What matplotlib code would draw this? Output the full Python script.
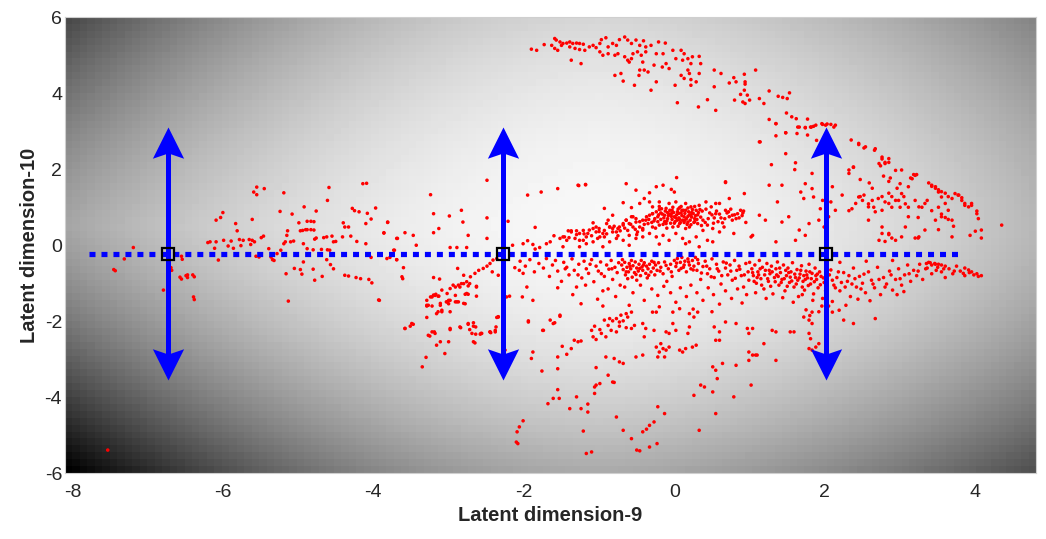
import numpy as np
import matplotlib
matplotlib.use('Agg')
import matplotlib.pyplot as plt
from matplotlib.path import Path

plt.rcParams['font.family'] = ['Liberation Sans', 'DejaVu Sans']
plt.rcParams['axes.unicode_minus'] = False

# latent codes, grouped by region
far_left = [
    (-7.45, -0.64), (-7.43, -0.67), (-7.31, -0.36), (-7.19, -0.06), (-7.53, -5.39), (-6.69, -0.59),
    (-6.55, -0.29), (-6.57, -0.84), (-6.49, -0.80), (-6.47, -0.78), (-6.40, -0.78), (-6.39, -1.36),
    (-6.79, -1.18), (-5.55, 1.53), (-5.59, 1.40), (-5.55, 1.33), (-5.45, 1.49), (-5.19, 1.38),
    (-6.00, 0.86), (-6.03, 0.73), (-6.09, 0.66), (-5.83, 0.57), (-5.81, 0.38), (-5.61, 0.68),
    (-5.24, 0.89), (-5.08, 0.82), (-4.92, 1.01), (-4.76, 0.90), (-4.61, 1.18), (-4.59, 1.52),
    (-4.14, 1.62), (-4.09, 1.63), (-4.28, 0.97), (-4.25, 0.91), (-4.19, 0.88), (-4.08, 0.84),
    (-3.97, 0.98), (-3.81, 0.61), (-4.03, 0.69), (-4.10, 0.57), (-4.40, 0.59), (-4.38, 0.48),
    (-4.33, 0.48), (-4.41, 0.22), (-4.30, 0.24), (-4.22, 0.10), (-3.86, 0.32), (-3.68, 0.18),
    (-4.10, 0.04), (-3.69, -0.38), (-3.78, -0.32), (-3.72, -0.13), (-4.03, -0.32),
    (-6.20, 0.07), (-6.17, 0.09), (-6.09, 0.09), (-5.99, 0.13), (-5.93, -0.02), (-5.89, 0.11),
    (-5.86, -0.08), (-5.78, 0.15), (-5.76, -0.01), (-5.73, 0.13), (-5.65, 0.15), (-5.61, 0.13),
    (-5.58, 0.09), (-5.63, 0.02), (-5.49, 0.20), (-5.46, 0.24), (-5.56, -0.29), (-5.52, -0.31),
    (-5.39, -0.09), (-5.36, -0.31), (-5.34, -0.38), (-5.32, -0.40), (-5.28, -0.22), (-5.23, -0.13),
    (-5.19, 0.04), (-5.17, 0.09), (-5.14, 0.38), (-5.15, 0.26), (-5.10, 0.09), (-5.06, 0.11),
    (-4.99, 0.59), (-4.97, 0.38), (-4.94, 0.39), (-4.90, 0.41), (-4.88, 0.63), (-4.83, 0.63),
    (-4.79, 0.62), (-4.88, 0.41), (-4.83, 0.41), (-4.79, 0.40), (-4.93, 0.04), (-4.88, -0.09),
    (-4.80, -0.12), (-4.78, 0.16), (-4.76, 0.19), (-4.66, 0.20), (-4.62, 0.22), (-4.55, 0.24),
    (-4.53, 0.09), (-4.50, 0.10), (-4.61, -0.12), (-4.58, -0.13), (-4.69, -0.11), (-4.55, -0.26),
    (-4.93, -0.44), (-4.97, -0.64), (-5.05, -0.61), (-5.16, -0.75), (-4.95, -0.76), (-4.80, -0.63),
    (-4.78, -0.92), (-4.68, -0.82), (-4.62, -0.38), (-4.57, -0.51), (-4.53, -0.62), (-4.38, -0.79),
    (-4.33, -0.81), (-4.23, -0.85), (-4.17, -0.88), (-4.06, -0.90), (-4.02, -0.99), (-3.93, -1.44),
    (-5.13, -1.47), (-6.38, -1.43), (-6.54, -0.37), (-6.68, -0.66), (-6.55, -0.89), (-6.47, -0.85),
    (-6.38, -0.83), (-6.06, -0.39), (-6.11, -0.08),
]

left_mid = [
    (-2.49, 1.71), (-3.24, 1.33), (-2.83, 0.92), (-3.20, 0.83), (-2.99, 0.77), (-2.81, 0.61),
    (-2.49, 0.72), (-3.81, 0.60), (-3.86, 0.33), (-3.58, 0.33), (-3.47, 0.26), (-3.20, 0.33),
    (-3.13, 0.44), (-2.74, 0.26), (-2.49, 0.18), (-3.69, 0.18), (-3.43, 0.00), (-2.98, -0.06),
    (-2.89, -0.06), (-2.76, -0.06), (-3.73, -0.13), (-3.82, -0.35), (-3.69, -0.38), (-3.60, -0.59),
    (-3.62, -0.83), (-3.61, -0.88), (-3.20, -0.85), (-3.12, -0.89), (-2.88, -0.61), (-2.21, 0.63),
    (-1.85, 0.47), (-1.95, 1.32), (-1.77, 1.40), (-1.55, 1.49), (-1.27, 1.57), (-1.18, 1.59),
    (-0.64, 1.62),
]

left_arm = [
    (-3.29, -1.45), (-3.24, -1.36), (-3.20, -1.31), (-3.17, -1.29), (-3.13, -1.34), (-3.29, -1.58),
    (-3.22, -1.60), (-3.11, -1.53), (-3.09, -1.71), (-3.03, -1.49), (-3.00, -1.45), (-2.98, -1.14),
    (-2.91, -1.10), (-2.87, -1.05), (-2.83, -1.01), (-2.76, -0.96), (-2.74, -1.07), (-2.80, -0.79),
    (-2.71, -0.83), (-2.65, -0.74), (-2.63, -1.08), (-2.60, -0.66), (-2.54, -0.61), (-2.49, -0.55),
    (-2.45, -0.48), (-2.41, -0.39), (-2.36, -0.35), (-2.42, -0.70), (-2.34, -0.79), (-2.76, -1.27),
    (-2.89, -1.49), (-2.80, -1.53), (-2.63, -1.34), (-2.98, -1.75), (-3.16, -1.80), (-3.29, -1.90),
    (-3.49, -2.06), (-3.58, -2.19), (-3.27, -2.37), (-3.18, -2.32), (-2.98, -2.19), (-2.85, -2.15),
    (-2.74, -2.06), (-2.67, -2.13), (-2.69, -2.32), (-2.58, -2.34), (-2.45, -2.28), (-2.38, -2.28),
    (-2.34, -1.88), (-2.23, -1.36), (-2.19, -1.34), (-2.12, -0.59), (-2.06, -0.66), (-2.01, -0.74),
    (-1.96, -1.10), (-2.02, -1.36), (-1.88, -1.45), (-1.94, -2.02), (-1.74, -2.24), (-1.61, -2.06),
    (-1.52, -1.87), (-3.92, -1.45), (-3.58, -2.19), (-3.51, -2.13), (-3.47, -2.08), (-3.25, -2.39),
    (-3.22, -2.28), (-3.19, -2.28), (-3.11, -2.54), (-3.16, -2.63), (-3.00, -2.54), (-2.98, -2.22),
    (-2.84, -2.17), (-2.74, -2.08), (-2.72, -2.22), (-2.67, -2.04), (-2.64, -2.15), (-2.64, -2.34),
    (-2.57, -2.32), (-2.67, -2.54), (-2.65, -2.57), (-2.44, -2.30), (-2.37, -2.15), (-2.36, -1.90),
    (-2.25, -2.76), (-3.27, -1.58), (-3.22, -1.36), (-3.18, -1.32), (-3.14, -1.34), (-3.09, -1.18),
    (-3.02, -1.27), (-2.98, -1.45), (-3.00, -1.54), (-2.91, -1.49), (-2.87, -1.49), (-2.78, -1.54),
    (-2.91, -1.32), (-2.85, -1.10), (-2.80, -1.01), (-2.72, -1.01), (-2.63, -1.10), (-3.11, -1.58),
    (-3.14, -1.75), (-3.09, -1.75), (-3.29, -1.60), (-2.94, -1.05), (-3.02, -1.49), (-2.78, -1.29),
    (-2.74, -1.29), (-3.35, -3.20), (-3.30, -2.95), (-3.05, -2.85),
]

upper_band = [
    (0.03, 1.78), (0.68, 1.65), (-1.28, 1.58), (-1.18, 1.60), (-0.24, 1.54), (-0.15, 1.58),
    (-0.04, 1.47), (0.00, 1.40), (-0.33, 1.38), (-0.51, 1.45), (-0.40, 1.23), (-0.46, 1.10),
    (-0.68, 1.12), (-0.57, 0.99), (-0.93, 0.97), (-0.33, 1.14), (-0.29, 1.01), (-0.20, 1.14),
    (-0.07, 1.10), (0.02, 1.14), (0.15, 1.10), (0.22, 1.01), (0.33, 1.05), (0.42, 1.14),
    (0.49, 1.01), (0.60, 1.10), (-0.20, 0.94), (-0.11, 0.97), (0.07, 0.99), (0.29, 0.92),
    (0.68, 0.92), (0.77, 0.79), (0.84, 0.83), (0.91, 0.85), (-0.82, 0.79), (-0.88, 0.66),
    (-1.08, 0.59), (-0.64, 0.66), (-0.57, 0.75), (-0.51, 0.61), (-0.42, 0.66), (-0.37, 0.75),
    (-0.29, 0.83), (-0.22, 0.75), (-0.18, 0.85), (-0.13, 0.79), (-0.09, 0.70), (-0.04, 0.83),
    (0.00, 0.75), (0.04, 0.66), (0.09, 0.85), (0.13, 0.75), (0.18, 0.61), (0.22, 0.79),
    (0.27, 0.70), (0.31, 0.57), (0.38, 0.66), (0.55, 0.83), (0.64, 0.59), (0.73, 0.75),
    (0.77, 0.66), (0.44, 0.53), (-1.41, 0.38), (-1.37, 0.38), (-1.21, 0.39), (-1.15, 0.31),
    (-1.04, 0.35), (-1.00, 0.44), (-0.93, 0.39), (-0.86, 0.48), (-0.82, 0.35), (-0.75, 0.44),
    (-0.68, 0.53), (-0.62, 0.39), (-0.55, 0.48), (-0.49, 0.35), (-0.42, 0.44), (-0.35, 0.57),
    (-0.29, 0.48), (-0.20, 0.53), (-0.11, 0.57), (-0.02, 0.48), (0.07, 0.57), (0.15, 0.44),
    (0.20, 0.48), (0.51, 0.44), (0.60, 0.35), (0.38, 0.39), (0.79, 0.31), (1.02, 0.22),
    (-1.46, 0.22), (-1.32, 0.18), (-1.26, 0.13), (-1.17, 0.22), (-1.08, 0.09), (-1.02, 0.18),
    (-0.93, 0.22), (-0.86, 0.09), (-0.77, 0.18), (-0.68, 0.13), (-0.60, 0.26), (-0.51, 0.18),
    (-0.42, 0.22), (-0.33, 0.31), (-0.24, 0.22), (-0.15, 0.26), (-0.07, 0.13), (0.02, 0.31),
    (0.11, 0.18), (0.20, 0.09), (0.29, 0.22), (0.33, -0.04), (0.44, 0.13), (-1.48, -0.04),
    (-1.26, -0.04), (-0.95, -0.04), (-0.60, 0.00), (-0.20, 0.03), (0.15, 0.04), (0.51, 0.09),
    (-2.01, 0.04), (-1.79, -0.06), (-1.70, 0.04), (-1.65, 0.09), (-1.52, 0.18), (-1.48, 0.22),
    (-1.43, 0.13), (-1.37, 0.35), (-1.30, 0.38), (-1.26, 0.31), (-1.21, 0.13), (-1.17, 0.04),
    (-1.13, 0.40), (-1.08, 0.44), (-1.04, 0.48), (-0.99, 0.22), (-0.95, 0.31), (-0.90, 0.57),
    (-0.86, 0.48), (-0.82, 0.44), (-0.77, 0.35), (-0.73, 0.48), (-0.68, 0.57), (-0.64, 0.66),
    (-0.60, 0.57), (-0.55, 0.75), (-0.51, 0.70), (-0.46, 0.48), (-0.42, 0.40), (-0.38, 0.66),
    (-0.33, 0.79), (-0.29, 0.83), (-2.15, 0.00), (-1.95, 0.12), (-1.88, 0.02), (-1.60, 0.25),
    (-1.85, -0.10), (0.42, 0.95), (0.50, 0.80), (0.56, 0.90), (0.62, 0.72), (0.70, 0.85),
    (0.75, 0.95), (0.82, 0.70), (0.90, 0.78), (0.95, 0.60), (0.88, 0.92), (0.58, 0.62),
    (0.66, 0.48), (0.45, 0.70), (0.52, 0.58), (0.36, 0.52),
    (-1.40, 0.20), (-1.30, 0.28), (-1.20, 0.30), (-1.10, 0.25), (-1.00, 0.36), (-0.90, 0.30),
    (-0.80, 0.50), (-0.72, 0.38), (-0.66, 0.45), (-0.58, 0.55), (-0.52, 0.42), (-0.46, 0.62),
    (-0.40, 0.55), (-0.34, 0.68), (-0.27, 0.64), (-0.21, 0.80), (-0.17, 0.96), (-0.13, 0.62),
    (-0.07, 0.82), (-0.03, 0.92), (0.02, 0.72), (0.06, 0.84), (0.10, 0.92), (0.14, 0.66),
    (0.18, 0.76), (0.23, 0.86), (0.27, 0.62), (0.31, 0.80), (0.37, 0.90), (0.41, 0.60),
    (0.47, 0.85), (0.53, 0.72), (0.60, 0.82), (0.67, 0.70), (0.72, 0.88), (0.80, 0.80),
    (0.86, 0.72), (0.92, 0.90), (-0.25, 0.45), (-0.10, 0.45), (0.05, 0.50), (0.22, 0.54),
    (-0.50, 0.28), (-0.75, 0.25),
]

center_blob = [
    (-0.22, 0.62), (-0.18, 0.68), (-0.15, 0.55), (-0.12, 0.90), (-0.10, 0.64), (-0.08, 0.78),
    (-0.06, 0.92), (-0.05, 0.58), (-0.03, 0.68), (-0.01, 0.86), (0.01, 0.62), (0.03, 0.80),
    (0.05, 0.95), (0.06, 0.72), (0.08, 0.60), (0.10, 0.78), (0.11, 0.66), (0.12, 0.92),
    (0.14, 0.84), (0.16, 0.70), (0.17, 0.55), (0.19, 0.88), (0.21, 0.66), (0.23, 0.74),
    (0.25, 0.84), (0.26, 0.60), (0.28, 0.78), (0.30, 0.68), (-0.24, 0.88), (-0.26, 0.70),
    (-0.20, 1.02), (-0.14, 0.72), (-0.02, 1.00), (0.04, 0.88), (0.09, 1.02), (0.18, 0.98),
    (0.24, 0.94), (0.32, 0.86), (0.35, 0.74), (-0.30, 0.60), (-0.16, 0.82), (0.00, 0.58),
    (0.13, 0.60), (0.20, 0.80), (0.07, 0.68), (-0.09, 0.86), (0.27, 1.02), (-0.04, 0.76),
    (0.15, 0.92), (0.34, 0.94),
]

mid_band = [
    (-2.05, -0.42), (-1.98, -0.55), (-1.92, -0.38), (-1.86, -0.70), (-1.80, -0.48), (-1.74, -0.60),
    (-1.70, -0.35), (-1.66, -0.82), (-1.62, -0.52), (-1.58, -0.40), (-1.55, -0.68), (-1.50, -0.95),
    (-1.47, -0.45), (-1.43, -0.58), (-1.40, -0.78), (-1.36, -0.36), (-1.33, -0.66), (-1.30, -1.10),
    (-1.27, -0.50), (-1.23, -0.86), (-1.20, -0.42), (-1.17, -0.62), (-1.14, -0.74), (-1.10, -0.38),
    (-1.07, -0.96), (-1.04, -0.55), (-1.01, -0.68), (-0.98, -0.44), (-0.95, -1.20), (-0.93, -0.82),
    (-0.90, -0.52), (-0.87, -0.63), (-0.84, -0.40), (-0.82, -0.90), (-0.79, -0.58), (-0.76, -0.72),
    (-0.74, -0.46), (-0.72, -1.05), (-0.70, -0.52), (-0.68, -0.64), (-0.66, -0.45), (-0.65, -0.78),
    (-0.63, -0.58), (-0.61, -0.70), (-0.60, -0.48), (-0.58, -0.62), (-0.56, -0.84), (-0.55, -0.54),
    (-0.53, -0.72), (-0.52, -0.44), (-0.50, -0.60), (-0.48, -0.68), (-0.47, -0.50), (-0.45, -0.80),
    (-0.43, -0.57), (-0.42, -0.66), (-0.40, -0.46), (-0.38, -0.74), (-0.37, -0.55), (-0.35, -0.62),
    (-0.33, -0.50), (-0.31, -0.70), (-0.30, -0.42), (-0.28, -0.60), (-0.26, -0.78), (-0.25, -0.52),
    (-0.23, -0.66), (-0.21, -0.46), (-0.62, -0.88), (-0.50, -0.92), (-0.36, -0.86), (-0.57, -0.40),
    (-0.44, -0.40), (-0.18, -0.58), (-0.15, -0.75), (-0.13, -0.44), (-0.10, -0.95), (-0.08, -0.62),
    (-0.05, -0.50), (-0.03, -0.82), (0.00, -0.40), (0.02, -0.56), (0.04, -0.35), (0.06, -0.66),
    (0.08, -0.45), (0.10, -0.32), (0.12, -0.58), (0.14, -0.42), (0.16, -0.70), (0.18, -0.36),
    (0.20, -0.52), (0.22, -0.62), (0.24, -0.40), (0.26, -0.55), (0.28, -0.32), (0.30, -0.66),
    (0.32, -0.48), (0.35, -0.90), (0.38, -0.56), (0.41, -0.42), (0.44, -0.75), (0.47, -0.62),
    (0.50, -0.36), (0.53, -0.85), (0.56, -0.50), (0.59, -0.68), (0.62, -1.02), (0.65, -0.44),
    (0.68, -0.60), (0.71, -0.78), (0.74, -0.52), (0.77, -0.92), (0.80, -0.40), (0.83, -0.66),
    (0.86, -0.55), (0.89, -0.80), (0.92, -1.10), (0.95, -0.48), (0.98, -0.70),
    (-1.55, -1.12), (-1.35, -1.30), (-1.18, -1.05), (-1.02, -1.42), (-0.88, -1.15), (-0.78, -1.35),
    (-0.66, -1.10), (-0.55, -1.25), (-0.45, -1.05), (-0.40, -1.45), (-0.30, -1.15), (-0.22, -1.32),
    (-0.14, -1.08), (-0.05, -1.25), (0.02, -1.50), (0.08, -1.12), (0.16, -1.35), (0.22, -1.05),
    (0.30, -1.25), (0.38, -1.45), (0.45, -1.12), (0.52, -1.30), (0.60, -1.55), (0.68, -1.20),
    (0.76, -1.40), (0.84, -1.15), (0.90, -1.52), (0.96, -1.30), (-0.95, -1.60), (-0.60, -1.58),
    (-0.20, -1.62), (0.25, -1.68), (0.50, -1.75),
    (-1.45, -0.62), (-1.28, -0.78), (-1.12, -0.50), (-0.97, -0.75), (-0.83, -0.62), (-0.69, -0.38),
    (-0.64, -0.70), (-0.59, -0.55), (-0.51, -0.77), (-0.46, -0.61), (-0.41, -0.52), (-0.34, -0.79),
    (-0.27, -0.45), (-0.19, -0.68), (-0.11, -0.53), (-0.04, -0.70), (0.03, -0.47), (0.09, -0.61),
    (0.13, -0.52), (0.19, -0.44), (0.25, -0.65), (0.31, -0.38), (0.36, -0.73), (0.43, -0.55),
    (0.49, -0.83), (0.57, -0.62), (0.63, -0.80), (0.69, -0.47), (0.75, -0.68), (0.81, -0.87),
    (0.87, -0.63), (0.93, -0.78), (0.99, -0.92),
]

lower_scatter = [
    (-1.10, -2.24), (-1.08, -2.41), (-1.04, -2.48), (-0.97, -2.32), (-0.99, -2.22), (-0.91, -2.41),
    (-1.06, -2.13), (-0.93, -1.97), (-0.86, -1.93), (-0.82, -1.99), (-0.73, -2.02), (-0.68, -1.99),
    (-0.62, -1.89), (-0.57, -1.76), (-0.64, -1.80), (-0.71, -1.84), (-0.77, -1.93), (-0.88, -2.11),
    (-0.84, -2.24), (-0.77, -2.28), (-0.73, -2.13), (-0.64, -2.17), (-0.57, -2.19), (-0.53, -2.11),
    (-0.42, -2.06), (-0.38, -2.19), (-0.40, -2.41), (-0.27, -2.24), (-0.24, -2.68), (-0.18, -2.59),
    (-0.15, -2.72), (-0.11, -2.76), (-0.07, -2.68), (-0.20, -2.81), (-0.13, -2.94), (-0.22, -2.94),
    (-0.11, -2.28), (-0.07, -2.32), (-0.02, -2.06), (0.02, -2.24), (0.07, -2.76), (0.11, -2.81),
    (0.15, -2.72), (0.24, -2.68), (0.29, -2.63), (0.18, -2.32), (0.20, -2.15), (0.26, -1.89),
    (0.31, -1.76), (0.20, -1.80), (0.07, -1.67), (-0.02, -1.76), (-0.29, -1.76), (-0.24, -1.76),
    (-0.91, -2.94), (-0.80, -2.98), (-0.73, -3.07), (-0.68, -3.11), (-0.51, -2.94), (-0.42, -2.89),
    (-1.04, -3.22), (-0.88, -3.42), (-0.82, -3.60), (-0.80, -3.61), (-1.04, -3.68), (-1.06, -3.73),
    (-0.99, -3.64), (-1.06, -3.90), (-1.30, -3.99), (-1.55, -3.80), (-1.61, -4.03), (-1.53, -4.03),
    (-1.68, -4.17), (-1.39, -4.30), (-1.24, -4.30), (-1.15, -4.39), (-1.15, -4.18), (-0.77, -4.52),
    (-0.68, -4.87), (-0.57, -5.09), (-0.50, -5.39), (-0.46, -5.41), (-0.42, -4.91), (-0.37, -4.84),
    (-0.33, -4.74), (-0.27, -4.65), (-0.22, -4.25), (-0.13, -4.43), (-0.33, -5.31), (-0.23, -5.22),
    (-1.17, -5.48), (-1.10, -5.44), (-1.21, -4.89), (-2.01, -4.62), (-2.06, -4.78), (-2.09, -4.91),
    (-2.10, -5.18), (-2.08, -5.22), (0.35, -3.68), (0.40, -3.73), (0.26, -3.95), (0.51, -3.86),
    (0.55, -4.43), (0.33, -4.87), (0.79, -3.99), (1.02, -3.68), (0.51, -3.20), (0.55, -3.29),
    (0.57, -3.51), (0.64, -3.11), (0.82, -3.16), (0.99, -3.03), (1.08, -2.89), (1.35, -3.03),
    (0.53, -2.15), (0.60, -2.28), (0.60, -2.50), (0.55, -2.50), (0.68, -2.02), (0.82, -2.06),
    (0.97, -2.19), (1.04, -2.19), (0.99, -2.32), (0.99, -2.81), (1.04, -2.89), (1.10, -2.89),
    (1.19, -2.59), (1.30, -2.24), (1.35, -2.28), (1.54, -2.28), (1.59, -2.28), (1.72, -1.89),
    (1.79, -1.97), (1.83, -2.06), (1.79, -2.32), (1.81, -2.46), (1.88, -2.68), (1.92, -2.59),
    (1.79, -2.72), (1.83, -2.76), (2.38, -2.06), (2.25, -1.97), (2.67, -1.93), (2.10, -1.76),
    (2.19, -1.71), (1.83, -1.76), (-1.24, -1.54), (-1.94, -1.99), (-2.34, -1.89), (-2.45, -2.28),
    (-2.38, -2.24), (-2.56, -2.32), (-1.65, -1.97), (-1.59, -2.04), (-1.52, -1.84), (-1.75, -2.24),
    (-1.88, -2.81), (-1.90, -2.98), (-1.76, -3.31), (-1.55, -3.25), (-1.55, -2.94), (-1.49, -2.66),
    (-1.37, -2.72), (-1.33, -2.50), (-1.28, -2.54), (-1.24, -2.52), (-1.43, -2.87),
]

right_band = [
    (1.00, -0.45), (1.03, -0.62), (1.05, -0.80), (1.07, -0.52), (1.09, -1.00), (1.11, -0.70),
    (1.13, -0.40), (1.15, -0.88), (1.17, -0.58), (1.19, -1.15), (1.21, -0.66), (1.23, -0.48),
    (1.25, -0.95), (1.27, -0.75), (1.29, -0.55), (1.31, -1.28), (1.33, -0.85), (1.35, -0.62),
    (1.37, -0.44), (1.39, -1.05), (1.41, -0.72), (1.43, -0.90), (1.45, -0.52), (1.47, -1.20),
    (1.49, -0.80), (1.51, -0.60), (1.53, -0.98), (1.55, -0.70), (1.57, -0.46), (1.59, -1.10),
    (1.61, -0.85), (1.63, -0.64), (1.65, -1.35), (1.67, -0.76), (1.69, -0.54), (1.71, -0.95),
    (1.73, -1.18), (1.75, -0.68), (1.77, -0.86), (1.79, -0.50), (1.81, -1.02), (1.83, -0.74),
    (1.85, -1.28), (1.87, -0.60), (1.89, -0.90), (1.91, -1.12), (1.93, -0.70), (1.95, -0.82),
    (1.97, -1.40), (1.99, -0.98), (2.01, -1.20), (2.03, -0.88), (1.12, -0.78), (1.26, -0.66),
    (1.38, -0.82), (1.52, -0.72), (1.64, -0.92), (1.76, -0.78), (1.88, -0.80), (1.44, -1.38),
    (1.58, -1.50), (1.70, -1.30), (1.22, -1.40), (1.08, -1.25), (1.84, -1.45), (1.96, -1.60),
    (2.08, -0.65), (2.12, -1.05), (2.16, -0.85), (2.20, -1.20), (2.25, -0.72), (2.30, -0.95),
    (2.34, -1.35), (2.38, -0.60), (2.42, -1.10), (2.46, -0.82), (2.50, -1.00), (2.54, -1.25),
    (2.58, -0.70), (2.62, -0.92), (2.66, -1.12), (2.70, -0.58), (2.74, -1.30), (2.78, -0.85),
    (2.82, -1.02), (2.86, -0.68), (2.90, -1.18), (2.94, -0.90), (2.98, -0.62), (3.02, -1.05),
    (3.06, -0.78), (3.10, -0.52), (3.14, -0.95), (3.18, -0.66), (3.22, -0.80), (3.26, -0.50),
    (3.30, -0.90), (3.34, -0.62), (3.38, -0.45), (3.42, -0.75), (3.46, -0.48), (3.50, -0.58),
    (3.55, -0.70), (3.60, -0.85), (3.65, -0.62), (3.70, -0.75), (3.75, -0.55), (3.80, -0.68),
    (3.86, -0.80), (3.92, -0.72), (3.98, -0.78), (4.04, -0.82), (4.08, -0.80), (3.35, -0.48),
    (3.40, -0.46), (2.44, -1.42), (2.10, -1.48), (2.28, -1.58), (2.60, -1.46), (2.96, -1.30),
    (3.05, -1.22), (2.20, -0.45), (2.55, -0.42), (2.90, -0.40), (1.75, -1.70), (1.80, -1.85),
    (1.92, -1.75), (2.05, -1.60), (3.42, -0.52), (3.47, -0.50), (3.51, -0.50), (3.55, -0.52),
    (3.60, -0.55), (3.86, -0.60), (3.91, -0.65), (3.95, -0.70), (4.02, -0.75),
    (1.04, -0.72), (1.06, -0.95), (1.10, -0.85), (1.14, -0.62), (1.16, -1.05), (1.20, -0.78),
    (1.24, -0.88), (1.28, -1.08), (1.30, -0.70), (1.34, -0.96), (1.36, -0.78), (1.40, -0.60),
    (1.42, -0.98), (1.46, -0.88), (1.48, -0.66), (1.50, -1.08), (1.54, -0.84), (1.56, -0.94),
    (1.60, -0.76), (1.62, -1.02), (1.66, -0.86), (1.68, -0.66), (1.70, -1.10), (1.72, -0.80),
    (1.74, -0.90), (1.78, -1.06), (1.80, -0.70), (1.82, -0.88), (1.86, -0.96), (1.90, -0.76),
    (1.94, -1.04), (1.98, -0.86), (2.02, -1.00), (2.06, -0.78), (2.10, -0.92), (2.14, -1.12),
    (2.18, -0.70), (2.22, -0.98), (2.27, -1.10), (2.32, -0.80), (2.36, -1.02), (2.40, -0.88),
    (2.48, -1.15), (2.52, -0.76), (2.64, -1.02), (2.72, -0.90), (2.80, -1.10), (2.88, -0.78),
    (3.00, -0.88), (3.12, -0.75), (3.24, -0.68), (3.36, -0.60), (3.48, -0.66), (3.58, -0.62),
    (3.72, -0.68), (3.84, -0.74),
]

right_upper = [
    (1.66, 3.11), (1.74, 3.10), (1.81, 3.11), (1.88, 3.16), (1.97, 3.18), (2.01, 3.16),
    (2.08, 3.18), (2.14, 3.16), (1.74, 1.62), (1.68, 1.40), (1.72, 1.23), (1.83, 1.49),
    (1.85, 1.27), (1.97, 1.18), (1.94, 0.96), (2.08, 1.14), (2.10, 1.54), (2.14, 0.92),
    (2.05, 0.75), (1.92, 0.66), (1.99, 0.48), (1.79, 0.57), (1.66, 0.40), (1.74, 0.26),
    (2.23, 1.32), (2.32, 1.89), (2.38, 2.06), (2.45, 2.68), (2.54, 2.59), (2.67, 2.54),
    (2.72, 2.15), (2.76, 2.32), (2.80, 2.15), (2.85, 2.28), (2.94, 1.97), (3.00, 1.62),
    (3.02, 1.36), (2.94, 1.18), (2.85, 1.10), (2.76, 0.92), (2.67, 0.88), (2.58, 1.01),
    (2.50, 1.18), (2.45, 1.27), (2.41, 1.10), (2.36, 0.96), (2.58, 0.66), (2.76, 0.48),
    (2.85, 0.31), (2.94, 0.13), (3.02, 0.22), (3.20, 1.84), (3.16, 1.75), (3.11, 1.54),
    (3.20, 1.18), (3.25, 1.01), (3.33, 1.10), (3.42, 1.58), (3.47, 1.54), (3.51, 1.40),
    (3.55, 1.27), (3.60, 1.10), (3.64, 0.92), (3.69, 0.66), (3.73, 1.36), (3.78, 1.32),
    (3.82, 1.18), (3.86, 1.10), (3.91, 1.01), (3.95, 1.10), (4.02, 0.83), (4.04, 0.70),
    (4.08, 0.40), (4.35, 0.53), (3.93, 0.26), (3.69, 0.22), (3.55, 0.75), (3.47, 0.66),
    (3.33, 0.40), (3.25, 0.22), (3.07, 0.48), (3.11, 0.75), (2.76, 0.31), (2.72, 0.13),
    (1.35, 3.20), (1.48, 2.96), (1.14, 2.72), (1.48, 2.41), (1.61, 2.17), (1.60, 1.99),
    (1.29, 2.12), (1.83, 1.89), (0.68, 1.67), (0.93, 1.36), (0.73, 1.23), (0.55, 1.10),
    (1.26, 1.58), (1.37, 1.14), (1.43, 1.58), (1.21, 0.66), (1.43, 0.61), (1.52, 0.75),
    (1.13, 0.79), (1.04, 0.26), (1.35, 0.09), (1.61, 0.13),
    (2.35, 2.77), (2.45, 2.65), (2.52, 2.56), (2.66, 2.50), (2.76, 2.27), (2.80, 2.18),
    (2.85, 2.18), (2.74, 2.09), (2.38, 2.05), (2.32, 1.98), (2.78, 1.82), (2.87, 1.77),
    (2.85, 1.68), (3.02, 1.98), (3.18, 1.86), (3.22, 1.86), (3.14, 1.77), (2.47, 1.73),
    (2.59, 1.64), (2.63, 1.50), (2.47, 1.28), (2.52, 1.32), (2.58, 1.09), (2.63, 1.18),
    (2.65, 1.00), (2.71, 1.23), (2.76, 1.28), (2.80, 1.14), (2.85, 1.37), (2.89, 1.28),
    (2.96, 1.50), (2.98, 1.18), (3.05, 1.28), (3.07, 1.09), (3.11, 1.00), (3.00, 1.00),
    (2.89, 1.00), (3.38, 1.64), (3.42, 1.55), (3.47, 1.50), (3.51, 1.46), (3.55, 1.41),
    (3.60, 1.37), (3.64, 1.28), (3.69, 1.23), (3.77, 1.32), (3.82, 1.25), (3.86, 1.05),
    (3.95, 1.05), (4.02, 0.90), (3.51, 1.00), (3.55, 0.82), (3.60, 0.73), (3.64, 0.68),
    (3.42, 0.91), (3.36, 1.18), (3.29, 1.00), (3.24, 0.73), (3.71, 0.50), (3.24, 0.19),
    (3.20, 0.19), (3.51, 0.41), (4.00, 0.37), (4.08, 0.19), (2.32, 0.91), (2.85, 0.28),
    (2.89, 0.19), (2.80, 0.10),
]

top_arc = [
    (-1.90, 5.16), (-1.83, 5.13), (-1.73, 5.28), (-1.63, 5.26), (-1.59, 5.44), (-1.57, 5.40),
    (-1.52, 5.35), (-1.50, 5.26), (-1.48, 5.31), (-1.59, 5.18), (-1.55, 5.13), (-1.43, 5.32),
    (-1.39, 5.35), (-1.35, 5.31), (-1.30, 5.32), (-1.26, 5.31), (-1.21, 5.29), (-1.39, 5.22),
    (-1.32, 5.18), (-1.26, 5.15), (-1.19, 5.13), (-1.13, 5.22), (-1.08, 5.26), (-1.04, 5.20),
    (-0.99, 5.31), (-0.97, 5.41), (-0.91, 5.46), (-0.88, 5.22), (-0.82, 5.31), (-0.77, 5.26),
    (-0.73, 5.41), (-0.66, 5.48), (-0.62, 5.40), (-0.57, 5.31), (-0.51, 5.40), (-0.46, 5.26),
    (-0.41, 5.38), (-0.38, 5.22), (-0.31, 5.26), (-0.21, 5.35), (-0.12, 5.32), (-0.99, 5.09),
    (-0.95, 5.00), (-0.88, 5.04), (-0.79, 5.00), (-0.75, 5.04), (-0.66, 4.96), (-0.62, 4.87),
    (-0.57, 4.91), (-0.55, 5.04), (-0.49, 5.09), (-0.44, 5.00), (-0.38, 5.09), (-0.42, 4.82),
    (-0.40, 4.61), (-0.35, 4.56), (-0.46, 4.61), (-0.60, 4.82), (-0.24, 5.04), (-0.15, 5.04),
    (-0.27, 4.74), (-0.16, 4.69), (-0.11, 4.78), (-0.07, 4.65), (-0.02, 5.13), (0.09, 5.13),
    (0.13, 5.04), (0.02, 4.91), (0.11, 4.87), (0.18, 4.91), (0.24, 4.96), (0.33, 4.97),
    (0.22, 4.78), (0.18, 4.61), (0.20, 4.52), (0.09, 4.47), (0.13, 4.39), (0.22, 4.36),
    (0.29, 4.30), (0.35, 4.78), (0.33, 4.52), (-1.37, 4.87), (-1.24, 4.78), (-0.79, 4.47),
    (-0.71, 4.52), (-0.68, 4.32), (-0.53, 4.21), (-0.47, 4.47), (-0.24, 4.30), (-0.31, 4.08),
    (0.01, 4.21), (0.22, 4.21), (0.04, 3.75), (0.32, 3.64), (0.44, 3.83), (0.53, 4.17),
    (0.55, 3.55), (0.53, 4.61), (0.62, 4.52), (0.73, 4.27), (0.79, 4.41), (0.82, 4.30),
    (0.93, 4.50), (0.94, 4.30), (0.94, 4.24), (0.93, 4.08), (0.88, 3.97), (0.97, 3.95),
    (1.00, 3.82), (0.94, 3.73), (0.91, 3.77), (0.80, 3.82), (1.08, 4.61), (1.13, 3.86),
    (1.19, 3.73), (1.26, 4.06), (1.38, 3.92), (1.44, 3.89), (1.50, 3.86), (1.53, 4.01),
    (1.49, 3.48), (1.56, 3.38), (1.62, 3.33), (1.26, 3.31), (1.35, 3.20), (1.77, 3.32),
    (1.64, 3.11), (1.74, 3.09), (1.82, 3.11), (1.85, 3.13), (1.96, 3.20), (2.03, 3.19),
    (2.12, 3.11), (1.63, 2.94), (1.77, 2.90), (1.48, 2.96), (1.35, 2.88), (1.89, 2.76),
    (1.13, 2.72),
]

# traversal: fixed dimension-10 value, three sampled dimension-9 positions
line_x = [-7.78, 3.80]
line_y = -0.24
arrow_x = [-6.73, -2.28, 2.01]
arrow_lo, arrow_hi = -3.55, 3.10

pts = np.array(far_left + left_mid + left_arm + upper_band + center_blob
               + mid_band + lower_scatter + right_band + right_upper + top_arc)

fig = plt.figure(figsize=(10.46, 5.39), dpi=100)
ax = fig.add_axes([0.062, 0.122, 0.928, 0.846])

# grey background: bright bump, darker towards the edges (faster on the left)
xlim = (-8.1, 4.8)
ylim = (-6.0, 6.0)
cx, cy = -1.0, 0.5
gx = np.linspace(xlim[0], xlim[1], 130)
gy = np.linspace(ylim[0], ylim[1], 66)
GX, GY = np.meshgrid(gx, gy)
fx = np.where(GX < cx, 0.32 * ((cx - GX) / (cx - xlim[0])) ** 2,
              0.25 * ((GX - cx) / (xlim[1] - cx)) ** 2)
fy = np.where(GY > cy, 0.13 * ((GY - cy) / (ylim[1] - cy)) ** 2,
              0.30 * ((cy - GY) / (cy - ylim[0])) ** 2)
q = 2.5 + 0.8 * np.clip((cx - GX) / (cx - xlim[0]), 0, 1)
f = (fx ** (2 / q) + fy ** (2 / q)) ** (q / 2)
bg = np.clip(0.97 - f, 0, 1)
ax.imshow(bg, cmap='gray', vmin=0, vmax=1, origin='lower', extent=(*xlim, *ylim),
          aspect='auto', interpolation='nearest', zorder=0)

ax.scatter(pts[:, 0], pts[:, 1], s=6.5, c='red', edgecolors='none', zorder=2)

# dotted traversal line
ax.plot(line_x, [line_y, line_y], color='blue', lw=3.75,
        linestyle=(0, (1.15, 1.15)), dash_capstyle='butt', zorder=3)

# double arrows: shaft + notched heads (tip of path at the origin)
head_up = Path([(0, 0), (-0.5, -1), (0, -0.83), (0.5, -1), (0, 0)],
               [Path.MOVETO, Path.LINETO, Path.LINETO, Path.LINETO, Path.CLOSEPOLY])
head_dn = Path([(0, 0), (-0.5, 1), (0, 0.83), (0.5, 1), (0, 0)],
               [Path.MOVETO, Path.LINETO, Path.LINETO, Path.LINETO, Path.CLOSEPOLY])
for xa in arrow_x:
    ax.plot([xa, xa], [arrow_lo + 0.5, arrow_hi - 0.5], color='blue', lw=3.6,
            solid_capstyle='butt', zorder=4)
    ax.plot(xa, arrow_hi, marker=head_up, markersize=45, color='blue', mew=0, zorder=4)
    ax.plot(xa, arrow_lo, marker=head_dn, markersize=45, color='blue', mew=0, zorder=4)

ax.plot(arrow_x, [line_y] * len(arrow_x), 's', mfc='none', mec='black',
        ms=9, mew=1.6, zorder=5)

ax.set_xlim(*xlim)
ax.set_ylim(*ylim)
ax.set_xticks(np.arange(-8, 5, 2))
ax.set_yticks(np.arange(-6, 7, 2))
ax.tick_params(length=0, labelsize=14, labelcolor='#262626')
ax.tick_params(axis='x', pad=8)
ax.tick_params(axis='y', pad=2)
for sp in ax.spines.values():
    sp.set_color('#cfcfcf')
    sp.set_linewidth(0.8)

ax.set_xlabel('Latent dimension-9', fontsize=14.5, fontweight='bold', color='#262626', labelpad=3)
ax.set_ylabel('Latent dimension-10', fontsize=14.5, fontweight='bold', color='#262626', labelpad=4)

fig.savefig('out.png', dpi=100)
